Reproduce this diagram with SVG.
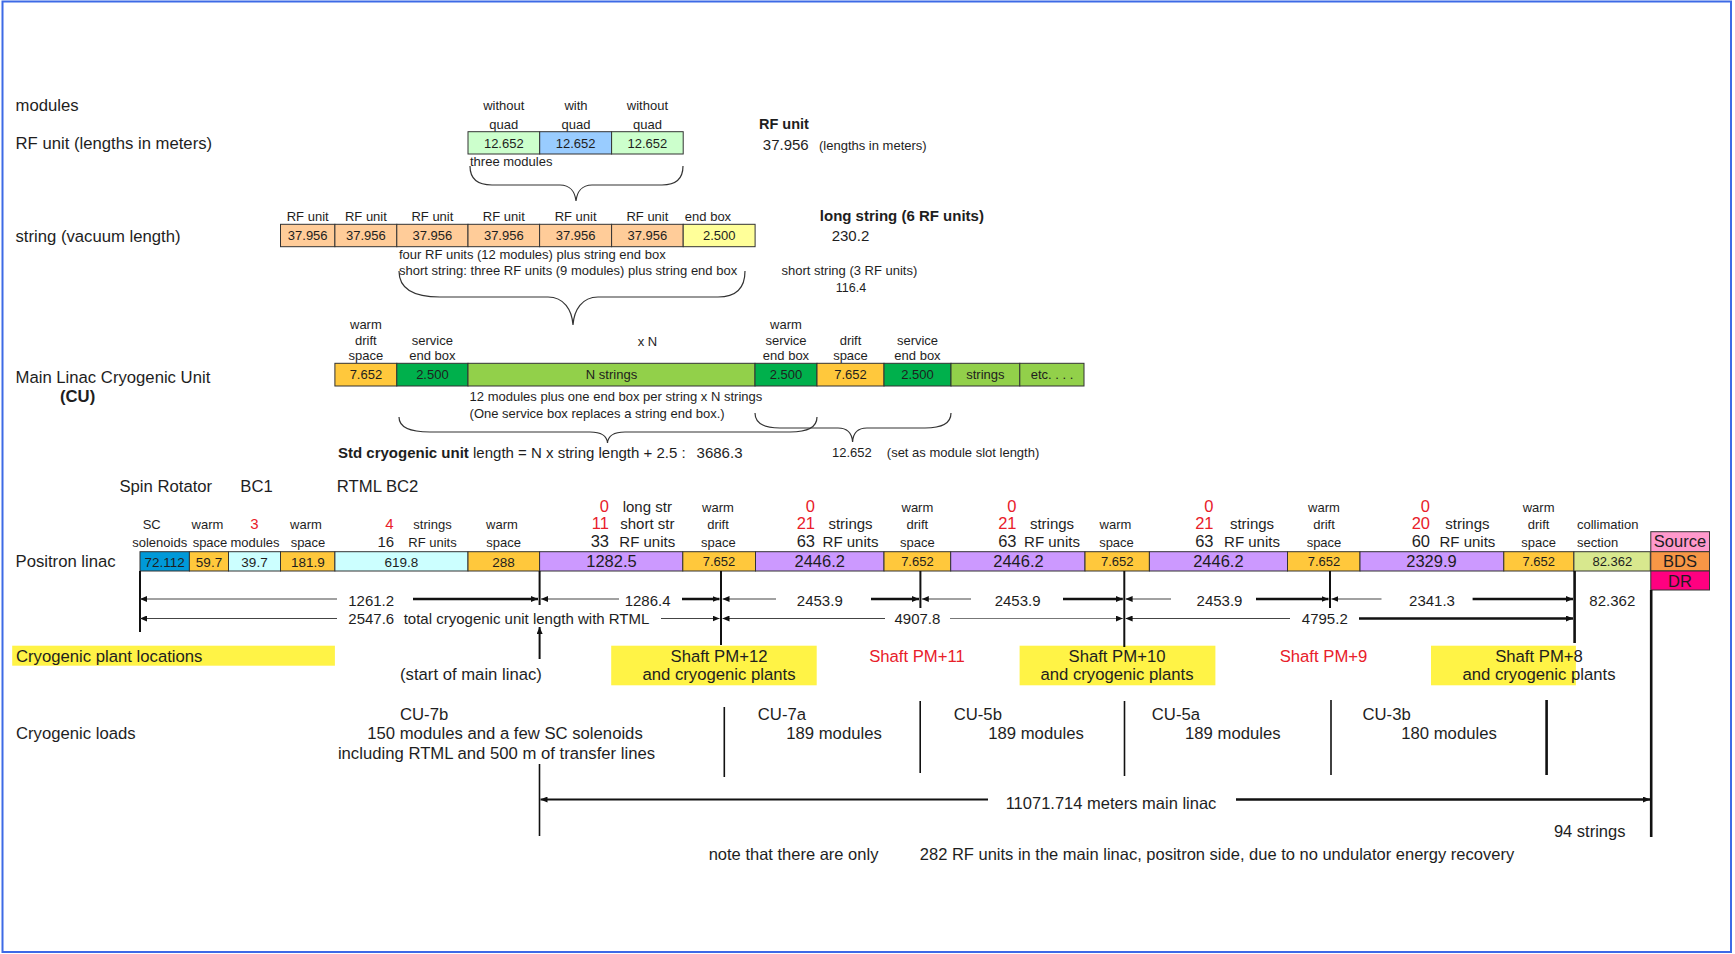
<svg xmlns="http://www.w3.org/2000/svg" width="1735" height="954" viewBox="0 0 1735 954">
<defs>
<style>
text{font-family:"Liberation Sans",Arial,Helvetica,sans-serif;fill:#1e1e1e}
.L{font-size:16.7px}
.s13{font-size:13px}
.s135{font-size:13.5px}
.s15{font-size:15px}
.s16{font-size:16.5px}
.b{font-weight:bold}
.m{text-anchor:middle}
.e{text-anchor:end}
.red{fill:#e8202a}
.bx{stroke:#333;stroke-width:1}
.thin{stroke:#444;stroke-width:1.2;fill:none}
.gray{stroke:#777;stroke-width:1.2;fill:none}
.thick{stroke:#111;stroke-width:2.6;fill:none}
.v{stroke:#111;stroke-width:2;fill:none}
.vt{stroke:#111;stroke-width:2.6;fill:none}
.brace{fill:none;stroke:#333;stroke-width:1.2}
.hl{fill:#fff346}
</style>
<marker id="ar" viewBox="0 0 7 6" refX="7" refY="3" markerWidth="7" markerHeight="6" markerUnits="userSpaceOnUse" orient="auto-start-reverse"><path d="M0,0 L7,3 L0,6 z" fill="#111"/></marker>
</defs>
<rect x="0" y="0" width="1735" height="954" fill="#fff"/>
<rect x="2.5" y="1.5" width="1728.5" height="950.5" fill="none" stroke="#3d6ae6" stroke-width="2"/>

<g id="left-labels">
<text class="L" x="15.5" y="111">modules</text>
<text class="L" x="15.5" y="148.5">RF unit (lengths in meters)</text>
<text class="L" x="15.5" y="242">string (vacuum length)</text>
<text class="L" x="15.5" y="383">Main Linac Cryogenic Unit</text>
<text class="L b" x="60" y="402">(CU)</text>
<text class="L" x="119.4" y="491.5">Spin Rotator</text>
<text class="L" x="240.3" y="491.5">BC1</text>
<text class="L" x="336.8" y="491.5">RTML BC2</text>
<text class="L" x="15.5" y="567">Positron linac</text>
<text class="L" x="16" y="739">Cryogenic loads</text>
</g>

<!-- RF unit modules -->
<g id="rfunit-headers">
<text class="s13 m" x="503.8" y="109.5">without</text>
<text class="s13 m" x="576" y="109.5">with</text>
<text class="s13 m" x="647.4" y="109.5">without</text>
<text class="s13 m" x="503.8" y="129">quad</text>
<text class="s13 m" x="576" y="129">quad</text>
<text class="s13 m" x="647.4" y="129">quad</text>
</g>
<g id="mod1"><rect class="bx" x="468" y="131.7" width="71.7" height="22.3" fill="#ccffcc"/><text class="s13 m" x="503.8" y="147.5">12.652</text></g>
<g id="mod2"><rect class="bx" x="539.7" y="131.7" width="71.9" height="22.3" fill="#99ccff"/><text class="s13 m" x="575.6" y="147.5">12.652</text></g>
<g id="mod3"><rect class="bx" x="611.6" y="131.7" width="71.6" height="22.3" fill="#ccffcc"/><text class="s13 m" x="647.4" y="147.5">12.652</text></g>
<g id="rfunit-notes">
<text class="s13" x="470" y="165.5">three modules</text>
<text class="b" style="font-size:14.5px" x="759" y="128.5">RF unit</text>
<text class="s15" x="762.8" y="149.5">37.956</text>
<text class="s13" x="819" y="149.5">(lengths in meters)</text>
</g>

<!-- string -->
<g id="string-headers">
<text class="s13 m" x="307.7" y="221">RF unit</text>
<text class="s13 m" x="365.9" y="221">RF unit</text>
<text class="s13 m" x="432.4" y="221">RF unit</text>
<text class="s13 m" x="503.8" y="221">RF unit</text>
<text class="s13 m" x="575.6" y="221">RF unit</text>
<text class="s13 m" x="647.4" y="221">RF unit</text>
<text class="s13 m" x="708" y="221">end box</text>
</g>
<g id="str1"><rect class="bx" x="280.5" y="224.3" width="54.4" height="22.4" fill="#ffcc99"/><text class="s13 m" x="307.7" y="240">37.956</text></g>
<g id="str2"><rect class="bx" x="334.9" y="224.3" width="61.9" height="22.4" fill="#ffcc99"/><text class="s13 m" x="365.9" y="240">37.956</text></g>
<g id="str3"><rect class="bx" x="396.8" y="224.3" width="71.2" height="22.4" fill="#ffcc99"/><text class="s13 m" x="432.4" y="240">37.956</text></g>
<g id="str4"><rect class="bx" x="468" y="224.3" width="71.6" height="22.4" fill="#ffcc99"/><text class="s13 m" x="503.8" y="240">37.956</text></g>
<g id="str5"><rect class="bx" x="539.6" y="224.3" width="72" height="22.4" fill="#ffcc99"/><text class="s13 m" x="575.6" y="240">37.956</text></g>
<g id="str6"><rect class="bx" x="611.6" y="224.3" width="71.6" height="22.4" fill="#ffcc99"/><text class="s13 m" x="647.4" y="240">37.956</text></g>
<g id="str-endbox"><rect class="bx" x="683.2" y="224.3" width="71.9" height="22.4" fill="#ffff99"/><text class="s13 m" x="719.2" y="240">2.500</text></g>
<g id="string-notes">
<text class="s13" x="399" y="258.5">four RF units (12 modules) plus string end box</text>
<text class="s13" x="399" y="275">short string: three RF units (9 modules) plus string end box</text>
<text class="b s15" x="819.8" y="221">long string (6 RF units)</text>
<text class="s15" x="831.7" y="241">230.2</text>
<text class="s13" x="781.5" y="275">short string (3 RF units)</text>
<text class="m" style="font-size:12.5px" x="851" y="292">116.4</text>
</g>

<!-- CU -->
<g id="cu-headers">
<text class="s13 m" x="365.9" y="329">warm</text>
<text class="s13 m" x="365.9" y="344.5">drift</text>
<text class="s13 m" x="365.9" y="360">space</text>
<text class="s13 m" x="432.4" y="344.5">service</text>
<text class="s13 m" x="432.4" y="360">end box</text>
<text class="s13 m" x="647.5" y="345.5">x N</text>
<text class="s13 m" x="786" y="329">warm</text>
<text class="s13 m" x="786" y="344.5">service</text>
<text class="s13 m" x="786" y="360">end box</text>
<text class="s13 m" x="850.5" y="344.5">drift</text>
<text class="s13 m" x="850.5" y="360">space</text>
<text class="s13 m" x="917.5" y="344.5">service</text>
<text class="s13 m" x="917.5" y="360">end box</text>
</g>
<g id="cu1"><rect class="bx" x="334.9" y="363.3" width="61.9" height="22.7" fill="#ffc83c"/><text class="s13 m" x="365.9" y="379">7.652</text></g>
<g id="cu2"><rect class="bx" x="396.8" y="363.3" width="71.2" height="22.7" fill="#00b04c"/><text class="s13 m" x="432.4" y="379">2.500</text></g>
<g id="cu3"><rect class="bx" x="468" y="363.3" width="287" height="22.7" fill="#92d04a"/><text class="s13 m" x="611.5" y="379">N strings</text></g>
<g id="cu4"><rect class="bx" x="755" y="363.3" width="62" height="22.7" fill="#00b04c"/><text class="s13 m" x="786" y="379">2.500</text></g>
<g id="cu5"><rect class="bx" x="817" y="363.3" width="67" height="22.7" fill="#ffc83c"/><text class="s13 m" x="850.5" y="379">7.652</text></g>
<g id="cu6"><rect class="bx" x="884" y="363.3" width="67" height="22.7" fill="#00b04c"/><text class="s13 m" x="917.5" y="379">2.500</text></g>
<g id="cu7"><rect class="bx" x="951" y="363.3" width="68.8" height="22.7" fill="#92d04a"/><text class="s13 m" x="985.4" y="379">strings</text></g>
<g id="cu8"><rect class="bx" x="1019.8" y="363.3" width="64.2" height="22.7" fill="#92d04a"/><text class="s13 m" x="1052" y="379">etc. . . .</text></g>
<g id="cu-notes">
<text class="s13" x="469.6" y="401">12 modules plus one end box per string x N strings</text>
<text class="s13" x="469.6" y="418">(One service box replaces a string end box.)</text>
<text class="s15" x="338" y="457.5"><tspan class="b">Std cryogenic unit</tspan> length = N x string length + 2.5 :</text>
<text class="s15" x="696.6" y="457.5">3686.3</text>
<text class="s13" x="832" y="457">12.652</text>
<text class="s13" x="886.8" y="457">(set as module slot length)</text>
</g>

<!-- Positron linac headers -->
<g id="pos-headers">
<text class="s13 m" x="151.7" y="529.3">SC</text>
<text class="s13 m" x="159.7" y="547.3">solenoids</text>
<text class="s13 m" x="207.5" y="529.3">warm</text>
<text class="s13 m" x="210" y="547.3">space</text>
<text class="s15 m red" x="254.3" y="529.3">3</text>
<text class="s13 m" x="255" y="547.3">modules</text>
<text class="s13 m" x="306" y="529.3">warm</text>
<text class="s13 m" x="308" y="547.3">space</text>
<text class="s15 m red" x="389.3" y="529.3">4</text>
<text class="s13 m" x="432.5" y="529.3">strings</text>
<text class="s15 m" x="385.8" y="547.3">16</text>
<text class="s13 m" x="432.5" y="547.3">RF units</text>
<text class="s13 m" x="502" y="529.3">warm</text>
<text class="s13 m" x="503.7" y="547.3">space</text>

<text class="s16 e red" x="609" y="512">0</text>
<text class="s16 e red" x="609" y="529.3">11</text>
<text class="s16 e" x="609" y="547.3">33</text>
<text class="s15 m" x="647.3" y="512">long str</text>
<text class="s15 m" x="647.3" y="529.3">short str</text>
<text class="s15 m" x="647.3" y="547.3">RF units</text>

<text class="s13 m" x="718" y="512">warm</text>
<text class="s13 m" x="718" y="529.3">drift</text>
<text class="s13 m" x="718.4" y="547.3">space</text>

<text class="s16 e red" x="815" y="512">0</text>
<text class="s16 e red" x="815" y="529.3">21</text>
<text class="s16 e" x="815" y="547.3">63</text>
<text class="s15 m" x="850.5" y="529.3">strings</text>
<text class="s15 m" x="850.5" y="547.3">RF units</text>

<text class="s13 m" x="917.4" y="512">warm</text>
<text class="s13 m" x="917.4" y="529.3">drift</text>
<text class="s13 m" x="917.4" y="547.3">space</text>

<text class="s16 e red" x="1016.5" y="512">0</text>
<text class="s16 e red" x="1016.5" y="529.3">21</text>
<text class="s16 e" x="1016.5" y="547.3">63</text>
<text class="s15 m" x="1052" y="529.3">strings</text>
<text class="s15 m" x="1052" y="547.3">RF units</text>

<text class="s13 m" x="1115.5" y="529.3">warm</text>
<text class="s13 m" x="1116.5" y="547.3">space</text>

<text class="s16 e red" x="1213.5" y="512">0</text>
<text class="s16 e red" x="1213.5" y="529.3">21</text>
<text class="s16 e" x="1213.5" y="547.3">63</text>
<text class="s15 m" x="1252" y="529.3">strings</text>
<text class="s15 m" x="1252" y="547.3">RF units</text>

<text class="s13 m" x="1324" y="512">warm</text>
<text class="s13 m" x="1324" y="529.3">drift</text>
<text class="s13 m" x="1324" y="547.3">space</text>

<text class="s16 e red" x="1430" y="512">0</text>
<text class="s16 e red" x="1430" y="529.3">20</text>
<text class="s16 e" x="1430" y="547.3">60</text>
<text class="s15 m" x="1467.4" y="529.3">strings</text>
<text class="s15 m" x="1467.4" y="547.3">RF units</text>

<text class="s13 m" x="1538.6" y="512">warm</text>
<text class="s13 m" x="1538.6" y="529.3">drift</text>
<text class="s13 m" x="1538.6" y="547.3">space</text>

<text class="s13" x="1577" y="529.3">collimation</text>
<text class="s13" x="1577" y="547.3">section</text>
</g>

<!-- Positron linac row -->
<g id="p1"><rect class="bx" x="140" y="551.7" width="49.4" height="19.3" fill="#0099d8"/><text class="s135 m" x="164.7" y="566.5">72.112</text></g>
<g id="p2"><rect class="bx" x="189.4" y="551.7" width="39.1" height="19.3" fill="#ffc83c"/><text class="s135 m" x="209" y="566.5">59.7</text></g>
<g id="p3"><rect class="bx" x="228.5" y="551.7" width="52" height="19.3" fill="#ccffff"/><text class="s135 m" x="254.5" y="566.5">39.7</text></g>
<g id="p4"><rect class="bx" x="280.5" y="551.7" width="54.4" height="19.3" fill="#ffc83c"/><text class="s135 m" x="308" y="566.5">181.9</text></g>
<g id="p5"><rect class="bx" x="334.9" y="551.7" width="133.1" height="19.3" fill="#ccffff"/><text class="s135 m" x="401.4" y="566.5">619.8</text></g>
<g id="p6"><rect class="bx" x="468" y="551.7" width="71.6" height="19.3" fill="#ffc83c"/><text class="s135 m" x="503.6" y="566.5">288</text></g>
<g id="p7"><rect class="bx" x="539.6" y="551.7" width="143.2" height="19.3" fill="#cc99ff"/><text class="s16 m" x="611.5" y="567">1282.5</text></g>
<g id="p8"><rect class="bx" x="682.8" y="551.7" width="72.7" height="19.3" fill="#ffc83c"/><text class="s13 m" x="719" y="566">7.652</text></g>
<g id="p9"><rect class="bx" x="755.5" y="551.7" width="128.5" height="19.3" fill="#cc99ff"/><text class="s16 m" x="819.7" y="567">2446.2</text></g>
<g id="p10"><rect class="bx" x="884" y="551.7" width="66.7" height="19.3" fill="#ffc83c"/><text class="s13 m" x="917.4" y="566">7.652</text></g>
<g id="p11"><rect class="bx" x="950.7" y="551.7" width="134.3" height="19.3" fill="#cc99ff"/><text class="s16 m" x="1018.5" y="567">2446.2</text></g>
<g id="p12"><rect class="bx" x="1085" y="551.7" width="64.4" height="19.3" fill="#ffc83c"/><text class="s13 m" x="1117.3" y="566">7.652</text></g>
<g id="p13"><rect class="bx" x="1149.4" y="551.7" width="138.1" height="19.3" fill="#cc99ff"/><text class="s16 m" x="1218.4" y="567">2446.2</text></g>
<g id="p14"><rect class="bx" x="1287.5" y="551.7" width="72.5" height="19.3" fill="#ffc83c"/><text class="s13 m" x="1324" y="566">7.652</text></g>
<g id="p15"><rect class="bx" x="1360" y="551.7" width="143.8" height="19.3" fill="#cc99ff"/><text class="s16 m" x="1431.5" y="567">2329.9</text></g>
<g id="p16"><rect class="bx" x="1503.8" y="551.7" width="70.1" height="19.3" fill="#ffc83c"/><text class="s13 m" x="1538.7" y="566">7.652</text></g>
<g id="p17"><rect class="bx" x="1573.9" y="551.7" width="76.4" height="19.3" fill="#d8e88e"/><text class="s13 m" x="1612.3" y="566">82.362</text></g>
<g id="source"><rect class="bx" x="1650.8" y="531.7" width="58.7" height="20" fill="#ff99cc"/><text class="s16 m" x="1680" y="547">Source</text></g>
<g id="bds"><rect class="bx" x="1650.8" y="551.7" width="58.7" height="19.3" fill="#f79646"/><text class="s16 m" x="1680" y="567">BDS</text></g>
<g id="dr"><rect class="bx" x="1650.8" y="571" width="58.7" height="19" fill="#ff0080"/><text class="s16 m" x="1680" y="586.5">DR</text></g>

<!-- Cryogenic plant locations -->
<g id="plant-label"><rect class="hl" x="12.2" y="645.7" width="322.7" height="20"/><text class="L" x="16" y="661.7">Cryogenic plant locations</text></g>
<g id="pm12"><rect class="hl" x="611.2" y="645.7" width="205.5" height="39.6"/><text class="L m" x="719" y="662">Shaft PM+12</text><text class="L m" x="719" y="680">and cryogenic plants</text></g>
<g id="pm11"><text class="L m red" x="917" y="662">Shaft PM+11</text></g>
<g id="pm10"><rect class="hl" x="1019.6" y="645.7" width="195.8" height="39.6"/><text class="L m" x="1117" y="662">Shaft PM+10</text><text class="L m" x="1117" y="680">and cryogenic plants</text></g>
<g id="pm9"><text class="L m red" x="1323.5" y="662">Shaft PM+9</text></g>
<g id="pm8"><rect class="hl" x="1431" y="645.7" width="144.9" height="39.6"/><text class="L m" x="1539" y="662">Shaft PM+8</text><text class="L m" x="1539" y="680">and cryogenic plants</text></g>
<g id="start-label"><text class="L" x="400" y="680">(start of main linac)</text></g>

<!-- Cryogenic loads -->
<g id="cu7b"><text class="L" x="400" y="720">CU-7b</text><text class="L m" x="505" y="739.3">150 modules and a few SC solenoids</text><text class="L m" x="496.5" y="759">including RTML and 500 m of transfer lines</text></g>
<g id="cu7a"><text class="L" x="757.8" y="720">CU-7a</text><text class="L m" x="834" y="739.3">189 modules</text></g>
<g id="cu5b"><text class="L" x="953.7" y="720">CU-5b</text><text class="L m" x="1036" y="739.3">189 modules</text></g>
<g id="cu5a"><text class="L" x="1151.8" y="720">CU-5a</text><text class="L m" x="1232.8" y="739.3">189 modules</text></g>
<g id="cu3b"><text class="L" x="1362.5" y="720">CU-3b</text><text class="L m" x="1449" y="739.3">180 modules</text></g>

<!-- dimension labels -->
<g id="dim-labels">
<text class="s15 m" x="371.2" y="606.2">1261.2</text>
<text class="s15 m" x="647.6" y="606.2">1286.4</text>
<text class="s15 m" x="819.8" y="606.2">2453.9</text>
<text class="s15 m" x="1017.6" y="606.2">2453.9</text>
<text class="s15 m" x="1219.5" y="606.2">2453.9</text>
<text class="s15 m" x="1432" y="606.2">2341.3</text>
<text class="s15 m" x="1612.3" y="606.2">82.362</text>
<text class="s15" x="348.3" y="624.3">2547.6</text>
<text class="s15" x="403.7" y="624.3">total cryogenic unit length with RTML</text>
<text class="s15 m" x="917.4" y="624.3">4907.8</text>
<text class="s15 m" x="1324.8" y="624.3">4795.2</text>
<text class="s16 m" x="1111" y="809">11071.714 meters main linac</text>
<text class="s16" x="1553.9" y="837">94 strings</text>
<text class="s16" x="708.7" y="860">note that there are only</text>
<text class="s16" x="919.8" y="860">282 RF units in the main linac, positron side, due to no undulator energy recovery</text>
</g>

<g id="connectors">
<!-- braces -->
<path class="brace" d="M470,166 C470,178 476,185 492,185 L560,185 C570,185 575,192 576,201 C577,192 582,185 592,185 L662,185 C677,185 683,178 683,166"/>
<path class="brace" d="M399,271 C399,288 412,297 440,297 L548,297 C564,297 572,310 573,325 C574,310 582,297 598,297 L718,297 C736,297 745,288 745,271"/>
<path class="brace" d="M399,417 C399,427 410,432 430,432 L590,432 C602,432 607,437 607.5,443 C608,437 613,432 625,432 L790,432 C808,432 817,427 817,417"/>
<path class="brace" d="M755,413 C755,423 763,428 780,428 L838,428 C848,428 852,434 852.6,442 C853,434 857,428 867,428 L925,428 C942,428 951,423 951,413"/>
<!-- verticals -->
<path class="v" d="M140,571 V632"/>
<path class="v" d="M539.6,571 V605"/>
<path class="v" d="M721,571 V645"/>
<path class="v" d="M920.4,571 V608"/>
<path class="v" d="M1124.3,571 V647"/>
<path class="v" d="M1330,571 V608"/>
<path class="vt" d="M1574.6,571 V643"/>
<path class="vt" d="M1651.2,590 V837"/>
<path class="v" d="M539.6,659 V627" marker-end="url(#ar)"/>
<path class="v" style="stroke-width:1.6" d="M539.5,764 V836"/>
<path class="v" style="stroke-width:1.6" d="M724.3,707 V777"/>
<path class="v" style="stroke-width:1.6" d="M920.2,701 V773"/>
<path class="v" style="stroke-width:1.6" d="M1124.5,701 V776"/>
<path class="v" style="stroke-width:1.6" d="M1331,700 V775"/>
<path class="vt" d="M1546.6,700 V775"/>
<!-- row A -->
<path class="thin" d="M337,599 H140" marker-end="url(#ar)"/>
<path class="thick" d="M413,599 H538" marker-end="url(#ar)"/>
<path class="thin" d="M619,599 H541" marker-end="url(#ar)"/>
<path class="thick" d="M682,599 H719.5" marker-end="url(#ar)"/>
<path class="thin" d="M776,599 H722.5" marker-end="url(#ar)"/>
<path class="thick" d="M871,599 H919" marker-end="url(#ar)"/>
<path class="thin" d="M971,599 H921.8" marker-end="url(#ar)"/>
<path class="thick" d="M1063,599 H1122.8" marker-end="url(#ar)"/>
<path class="thin" d="M1171,599 H1125.6" marker-end="url(#ar)"/>
<path class="thick" d="M1256,599 H1328.5" marker-end="url(#ar)"/>
<path class="thin" d="M1381.5,599 H1331.4" marker-end="url(#ar)"/>
<path class="thick" d="M1472.6,599 H1573" marker-end="url(#ar)"/>
<!-- row B -->
<path class="thin" d="M337,618.5 H140" marker-end="url(#ar)"/>
<path class="thin" d="M661,618.5 H719.5" marker-end="url(#ar)"/>
<path class="thin" d="M885,618.5 H722.5" marker-end="url(#ar)"/>
<path class="gray" d="M950,618.5 H1122.8" marker-end="url(#ar)"/>
<path class="thin" d="M1290,618.5 H1125.6" marker-end="url(#ar)"/>
<path class="thick" d="M1359,618.5 H1573" marker-end="url(#ar)"/>
<!-- row C -->
<path class="thick" style="stroke-width:2" d="M988,799.5 H540.5" marker-end="url(#ar)"/>
<path class="thick" d="M1236,799.5 H1650" marker-end="url(#ar)"/>
</g>
</svg>
